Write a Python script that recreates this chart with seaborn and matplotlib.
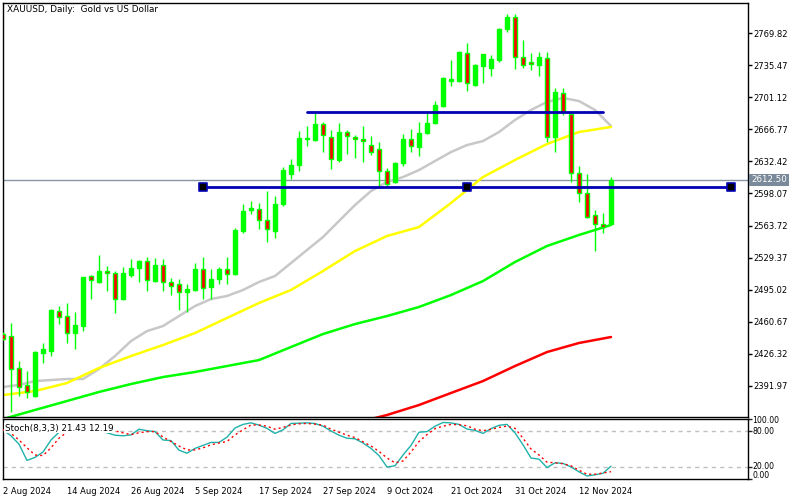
import numpy as np
import pandas as pd
import matplotlib
matplotlib.use("Agg")
import matplotlib.pyplot as plt
import seaborn as sns

# ---------------- data ----------------
title = "XAUUSD, Daily:  Gold vs US Dollar"
date_ticks = [0, 8, 16, 24, 32, 40, 48, 56, 64, 72]
date_labels = ["2 Aug 2024", "14 Aug 2024", "26 Aug 2024", "5 Sep 2024", "17 Sep 2024",
               "27 Sep 2024", "9 Oct 2024", "21 Oct 2024", "31 Oct 2024", "12 Nov 2024"]
price_ticks = [2391.97, 2426.32, 2460.67, 2495.02, 2529.37, 2563.72, 2598.07,
               2632.42, 2666.77, 2701.12, 2735.47, 2769.82]
last_price = 2612.50

opens = [2447.4, 2445.3, 2411.0, 2392.7, 2380.9, 2427.0, 2429.2, 2472.1, 2466.7, 2448.5,
         2456.0, 2509.6, 2503.2, 2515.0, 2512.8, 2484.9, 2510.7, 2518.2, 2525.7, 2504.2,
         2521.4, 2503.2, 2501.0, 2492.4, 2494.6, 2517.1, 2497.8, 2506.4, 2517.1, 2511.7,
         2557.8, 2580.4, 2581.4, 2569.6, 2557.8, 2586.8, 2619.0, 2628.6, 2656.5, 2655.4,
         2672.6, 2658.6, 2634.0, 2664.0, 2658.6, 2656.5, 2650.0, 2645.8, 2622.2, 2610.4,
         2630.7, 2656.5, 2647.9, 2662.9, 2673.6, 2691.9, 2718.7, 2718.7, 2748.7, 2714.4,
         2734.7, 2732.6, 2741.2, 2774.4, 2787.3, 2744.4, 2739.0, 2735.8, 2743.3, 2658.6,
         2705.8, 2683.3, 2620.0, 2598.6, 2575.0, 2565.3, 2565.3]
highs = [2449.6, 2459.2, 2418.5, 2407.8, 2429.0, 2437.8, 2474.2, 2477.4, 2480.7, 2471.0,
         2509.0, 2510.2, 2532.1, 2520.3, 2515.0, 2519.2, 2527.8, 2526.8, 2530.0, 2528.9,
         2527.8, 2507.5, 2506.4, 2501.0, 2523.5, 2530.0, 2517.1, 2519.2, 2530.0, 2561.1,
         2586.8, 2590.0, 2587.9, 2600.7, 2595.4, 2626.5, 2635.0, 2665.1, 2670.4, 2684.4,
         2674.7, 2666.1, 2673.6, 2666.1, 2660.8, 2670.4, 2659.7, 2653.3, 2625.4, 2631.8,
         2661.8, 2667.2, 2674.7, 2684.4, 2697.2, 2722.9, 2741.2, 2750.5, 2759.4, 2736.5,
         2748.0, 2746.5, 2775.5, 2790.5, 2790.5, 2762.6, 2748.7, 2749.8, 2749.8, 2711.2,
         2711.2, 2684.0, 2627.5, 2619.0, 2580.4, 2577.1, 2615.7]
lows = [2441.0, 2363.8, 2380.9, 2378.8, 2380.0, 2416.3, 2423.8, 2458.1, 2437.8, 2431.3,
        2450.6, 2484.9, 2502.1, 2493.5, 2469.9, 2483.9, 2508.5, 2503.2, 2493.5, 2503.2,
        2493.5, 2489.2, 2473.1, 2471.0, 2493.5, 2484.9, 2484.9, 2501.0, 2501.0, 2510.7,
        2555.7, 2576.1, 2560.0, 2546.1, 2550.3, 2584.6, 2613.6, 2622.2, 2649.0, 2654.3,
        2642.5, 2624.3, 2631.8, 2640.4, 2636.1, 2631.8, 2639.3, 2606.1, 2605.0, 2609.3,
        2627.5, 2642.5, 2638.3, 2661.8, 2672.6, 2690.8, 2713.3, 2718.0, 2707.9, 2713.8,
        2716.5, 2724.0, 2739.0, 2771.2, 2731.5, 2732.6, 2730.5, 2724.0, 2653.3, 2642.5,
        2682.2, 2610.4, 2588.9, 2571.8, 2536.4, 2555.7, 2564.5]
closes = [2442.1, 2409.9, 2390.6, 2385.2, 2428.1, 2431.3, 2473.1, 2465.6, 2448.5, 2457.1,
          2508.5, 2505.3, 2515.0, 2512.8, 2484.9, 2512.8, 2518.2, 2525.7, 2505.3, 2521.4,
          2503.2, 2498.9, 2492.4, 2495.7, 2517.1, 2496.7, 2506.4, 2517.1, 2511.7, 2558.9,
          2579.3, 2582.5, 2569.6, 2560.0, 2586.8, 2623.2, 2628.6, 2657.6, 2657.6, 2672.6,
          2660.8, 2635.0, 2664.0, 2659.7, 2656.5, 2654.3, 2642.5, 2622.2, 2608.2, 2630.7,
          2656.5, 2649.0, 2662.9, 2673.6, 2692.9, 2721.9, 2720.8, 2749.8, 2716.5, 2735.8,
          2747.6, 2742.2, 2774.4, 2787.3, 2744.4, 2735.8, 2736.9, 2744.4, 2658.6, 2706.9,
          2685.4, 2620.0, 2598.6, 2572.9, 2565.3, 2562.1, 2612.5]

# moving averages (read at selected bars)
ma_gray_idx = [0, 2, 4, 6, 8, 10, 12, 14, 16, 18, 20, 22, 24, 26, 28, 30, 32, 34, 36, 38,
               40, 42, 44, 46, 48, 50, 52, 54, 56, 58, 60, 62, 64, 66, 68, 70, 72, 74, 76]
ma_gray_val = [2390.6, 2392.8, 2397.0, 2398.1, 2399.2, 2399.2, 2409.9, 2423.8, 2439.9, 2450.6,
               2456.0, 2466.7, 2477.4, 2484.9, 2488.2, 2494.6, 2503.2, 2509.6, 2523.5, 2537.5,
               2551.4, 2568.6, 2585.7, 2600.7, 2610.4, 2615.7, 2623.2, 2632.9, 2642.5, 2650.0,
               2654.3, 2664.0, 2676.9, 2687.6, 2696.2, 2700.5, 2697.2, 2687.6, 2670.4]
ma_idx = [0, 4, 8, 12, 16, 20, 24, 28, 32, 36, 40, 44, 48, 52, 56, 60, 64, 68, 72, 76]
ma_yellow_val = [2382.0, 2386.3, 2394.9, 2411.0, 2423.8, 2435.6, 2448.5, 2464.6, 2480.7, 2494.6,
                 2515.0, 2536.4, 2552.5, 2562.1, 2587.9, 2615.7, 2634.0, 2651.1, 2664.0, 2669.4]
ma_green_val = [2356.3, 2366.0, 2375.6, 2385.3, 2393.8, 2401.3, 2406.7, 2413.1, 2419.5, 2433.5,
                2447.4, 2458.1, 2466.7, 2476.4, 2489.2, 2504.2, 2524.6, 2541.8, 2553.6, 2564.3]
ma_red_idx = [46, 48, 52, 56, 60, 64, 68, 72, 76]
ma_red_val = [2356.3, 2360.6, 2371.3, 2384.2, 2397.0, 2413.1, 2428.1, 2437.8, 2444.2]

# trend lines
level_upper = 2685.8
level_upper_bars = [38, 75]
level_lower = 2605.4
level_lower_bars = [25, 58, 91]

# stochastic
stoch_main = [81.6, 72, 58, 31, 36, 45, 65, 78, 85, 88, 88, 84, 80, 77, 73, 72, 73.5, 83, 80.5, 79,
              65, 64, 48, 43, 51, 56, 61, 61, 69.7, 85, 91, 93.6, 89.8, 84.4, 76, 82, 92.6, 93, 93.6, 92.5,
              88, 80, 73, 68, 67, 60, 51, 39, 20, 22, 40, 56, 78, 79, 88, 94.2, 93.5, 91, 83.3, 81,
              76, 84, 89.5, 91, 77, 57, 35, 33, 19, 27, 26, 20, 12, 5, 7, 9.5, 21.43]
stoch_signal = [82, 76, 65, 52, 40, 39, 52, 68, 78, 82, 84, 86, 86, 86, 80, 77, 74, 77, 79, 79,
                70, 62.5, 55, 48.5, 48.5, 52, 57, 60, 62.5, 73.5, 82, 90, 90, 88, 83, 86, 90, 92, 92.6, 91.5,
                89.8, 83, 78, 73, 69, 62, 55, 46, 35, 27, 30, 45, 62.5, 74, 84, 88, 91, 90.5, 88.7, 83,
                80.5, 82.8, 86, 88.2, 84.4, 68, 50, 40, 28, 27, 25.5, 22, 14.6, 8, 8, 10, 12.19]
stoch_label = "Stoch(8,3,3) 21.43 12.19"
stoch_levels = [20, 80]
stoch_ticks = [0, 20, 80, 100]
stoch_tick_labels = ["0.00", "20.00", "80.00", "100.00"]

# ---------------- style ----------------
sns.set_style("white")
plt.rcParams['font.family'] = ['DejaVu Sans']

W, H = 800, 500
fig = plt.figure(figsize=(8, 5), dpi=100)
fig.patch.set_facecolor("white")

def fx(px):
    return px / W

def fy(py):
    return 1 - py / H

ax = fig.add_axes([fx(2.5), fy(416.5), fx(745), (416.5 - 3) / H])
axs = fig.add_axes([fx(2.5), fy(479), fx(745), 60 / H], sharex=ax)

UP = "#00ff00"
DN = "#ff0000"

# moving averages (seaborn lines)
sns.lineplot(x=ma_gray_idx, y=ma_gray_val, ax=ax, color="#c8c8c8", linewidth=1.8, zorder=2)
sns.lineplot(x=ma_idx, y=ma_yellow_val, ax=ax, color="#ffff00", linewidth=1.8, zorder=2)
sns.lineplot(x=ma_idx, y=ma_green_val, ax=ax, color="#00ff00", linewidth=1.8, zorder=2)
sns.lineplot(x=ma_red_idx, y=ma_red_val, ax=ax, color="#ff0000", linewidth=1.8, zorder=2)

# last price line
ax.axhline(last_price, color="#8896a4", lw=1, zorder=1)

# candles
o = np.array(opens); c = np.array(closes); h = np.array(highs); l = np.array(lows)
idx = np.arange(len(o))
up = c >= o
ax.vlines(idx, l, h, color=UP, lw=1, zorder=3)
bottom = np.minimum(o, c)
height = np.maximum(np.abs(c - o), 0.8)
ax.bar(idx, height, bottom=bottom, width=0.55,
       color=np.where(up, UP, DN), edgecolor=UP, linewidth=1, zorder=4)

# trend lines
ax.plot(level_upper_bars, [level_upper] * 2, color="#0000b4", lw=2, zorder=6)
ax.plot([level_lower_bars[0], level_lower_bars[-1]], [level_lower] * 2, color="#0000b4", lw=2, zorder=6)
ax.scatter(level_lower_bars, [level_lower] * len(level_lower_bars), marker="s", s=26,
           facecolor="black", edgecolor="#0000b4", linewidths=1.2, zorder=7, clip_on=False)

ax.set_xlim((2.5 - 3) / 8, (747.5 - 3) / 8)
ax.set_ylim(2805.52 - 1.0721 * 416.5, 2805.52 - 1.0721 * 3)
ax.yaxis.tick_right()
ax.set_yticks(price_ticks)
ax.set_yticklabels([f"{v:.2f}" for v in price_ticks])
ax.tick_params(axis="y", direction="out", length=3, width=1, pad=1, labelsize=6, colors="black")
ax.tick_params(axis="x", bottom=False, labelbottom=False)
ax.set_xlabel(""); ax.set_ylabel("")
for s in ax.spines.values():
    s.set_color("black"); s.set_linewidth(1)

# stochastic panel
sns.lineplot(x=idx, y=stoch_main, ax=axs, color="#20b2aa", linewidth=1, zorder=3)
sns.lineplot(x=idx, y=stoch_signal, ax=axs, color="#ff0000", linewidth=1,
             linestyle=(0, (1.5, 2.2)), zorder=3)
for lv in stoch_levels:
    axs.axhline(lv, color="#c0c0c0", lw=1, ls=(0, (3, 3)), zorder=1)
axs.set_ylim(0, 100)
axs.yaxis.tick_right()
axs.set_yticks(stoch_ticks)
axs.set_yticklabels([""] * len(stoch_ticks))
axs.tick_params(axis="y", direction="out", length=3, width=1, pad=1)
# labels nudged apart (as the platform does near the panel edges)
label_pos = {0: 5.5, 20: 21.5, 80: 79.0, 100: 97.5}
for v, txt in zip(stoch_ticks, stoch_tick_labels):
    axs.text(1.0 + 5 / 745, label_pos[v], txt, transform=axs.get_yaxis_transform(),
             fontsize=5.6, ha="left", va="center", color="black")
axs.set_xticks(date_ticks)
axs.set_xticklabels(date_labels, ha="left")
axs.tick_params(axis="x", direction="out", length=5, width=1, pad=1, labelsize=6, colors="black")
axs.set_xlabel(""); axs.set_ylabel("")
for s in axs.spines.values():
    s.set_color("black"); s.set_linewidth(1)

# texts
fig.text(fx(7), fy(10), title, fontsize=6.4, ha="left", va="center", color="black")
fig.text(fx(5), fy(428), stoch_label, fontsize=6.3, ha="left", va="center", color="black",
         bbox=dict(facecolor="white", edgecolor="none", pad=0.6))
fig.text(fx(751), fy(180), f"{last_price:.2f}", fontsize=6.3, ha="left", va="center", color="white",
         bbox=dict(facecolor="#7b8a9a", edgecolor="none", pad=1.4))

fig.savefig("out.png", dpi=100, facecolor="white")
